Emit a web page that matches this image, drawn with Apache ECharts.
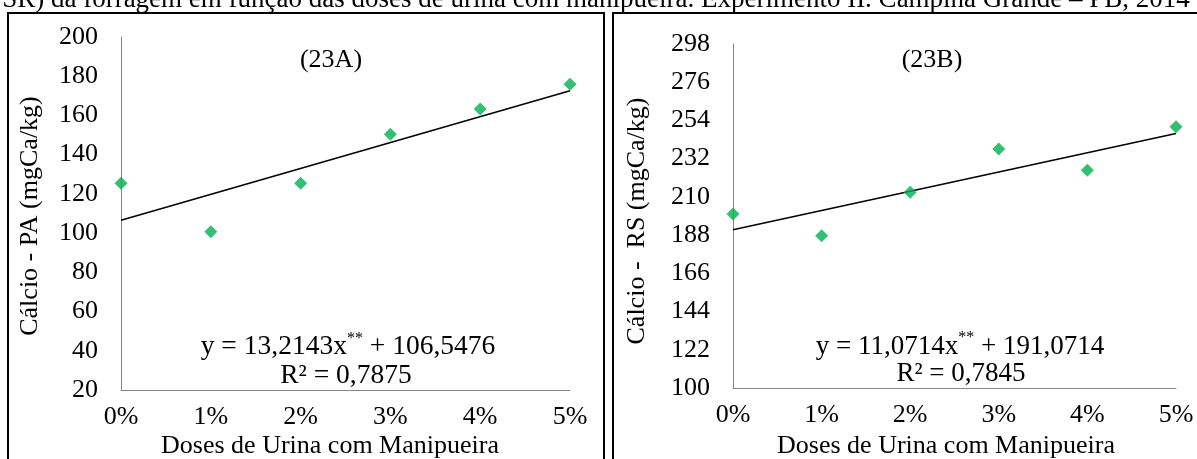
<!DOCTYPE html>
<html>
<head>
<meta charset="utf-8">
<script src="https://cdn.jsdelivr.net/npm/echarts@6/dist/echarts.min.js"></script>
<style>
html,body{margin:0;padding:0;background:#fff;}
#c{width:1197px;height:459px;}
</style>
</head>
<body>
<div id="c"></div>
<script>
// Data
const doses = [0, 1, 2, 3, 4, 5];
const doseLabels = ['0%', '1%', '2%', '3%', '4%', '5%'];
const calcioPA = [125.4, 100.7, 125.4, 150.4, 163.3, 175.9];
const calcioRS = [200.2, 187.7, 212.6, 237.6, 225.3, 250.3];
// trend line end points (x = 0 and x = 5) from the fitted equations
const trendPAx = [0, 5];
const trendPA = [106.5476, 172.619];
const trendRSx = [0, 5];
const trendRS = [191.0714, 246.4284];
const yTicksPA = [20, 200, 20];   // min, max, interval
const yTicksRS = [100, 298, 22];

const FONT = '"Liberation Serif", "Times New Roman", serif';
const FS = 26;

const chart = echarts.init(document.getElementById('c'));

function xAxis(gi) {
  return {
    type: 'value', gridIndex: gi, min: 0, max: 5, interval: 1,
    axisLine: {show: true, lineStyle: {color: '#868686', width: 1}},
    axisTick: {show: false},
    splitLine: {show: false},
    axisLabel: {
      color: '#000', fontFamily: FONT, fontSize: FS, margin: 14,
      formatter: v => doseLabels[doses.indexOf(v)]
    }
  };
}
function yAxis(gi, t) {
  return {
    type: 'value', gridIndex: gi, min: t[0], max: t[1], interval: t[2],
    axisLine: {show: true, lineStyle: {color: '#868686', width: 1}},
    axisTick: {show: false},
    splitLine: {show: false},
    axisLabel: {color: '#000', fontFamily: FONT, fontSize: FS, margin: 23}
  };
}

const txt = (x, y, s, extra, fs) => Object.assign({
  type: 'text', x: x, y: y,
  style: {text: s, fill: '#000', font: (fs || FS) + 'px ' + FONT, textAlign: 'center', textVerticalAlign: 'middle'}
}, extra || {});

function eq(x, y, a, b, fs) {
  return {
    type: 'text', x: x, y: y,
    style: {
      text: '{n|' + a + '}{s|**}{n|' + b + '}',
      rich: {
        n: {fontFamily: FONT, fontSize: fs, fill: '#000', lineHeight: 30, verticalAlign: 'bottom'},
        s: {fontFamily: FONT, fontSize: 16, fill: '#000', lineHeight: 30, verticalAlign: 'top'}
      },
      textAlign: 'center', textVerticalAlign: 'middle'
    }
  };
}

const option = {
  backgroundColor: '#fff',
  animation: false,
  grid: [
    {left: 121, top: 37, width: 449, height: 353},
    {left: 733, top: 44, width: 443, height: 344}
  ],
  xAxis: [xAxis(0), xAxis(1)],
  yAxis: [yAxis(0, yTicksPA), yAxis(1, yTicksRS)],
  series: [
    {type: 'line', xAxisIndex: 0, yAxisIndex: 0, data: trendPAx.map((x, i) => [x, trendPA[i]]),
      symbol: 'none', lineStyle: {color: '#000', width: 1.5}, z: 2},
    {type: 'scatter', xAxisIndex: 0, yAxisIndex: 0, data: doses.map((x, i) => [x, calcioPA[i]]),
      symbol: 'diamond', symbolSize: 13, itemStyle: {color: '#00B050'}, z: 3},
    {type: 'line', xAxisIndex: 1, yAxisIndex: 1, data: trendRSx.map((x, i) => [x, trendRS[i]]),
      symbol: 'none', lineStyle: {color: '#000', width: 1.5}, z: 2},
    {type: 'scatter', xAxisIndex: 1, yAxisIndex: 1, data: doses.map((x, i) => [x, calcioRS[i]]),
      symbol: 'diamond', symbolSize: 13, itemStyle: {color: '#00B050'}, z: 3}
  ],
  graphic: [
    {type: 'rect', shape: {x: 8, y: 13, width: 596, height: 500}, style: {fill: 'none', stroke: '#000', lineWidth: 2}},
    {type: 'rect', shape: {x: 613, y: 13, width: 700, height: 500}, style: {fill: 'none', stroke: '#000', lineWidth: 2}},
    txt(596, 0, 'SR) da forragem em função das doses de urina com manipueira. Experimento II. Campina Grande – PB, 2014', null, 27),
    txt(331, 60, '(23A)'),
    txt(932, 60, '(23B)'),
    txt(30, 216, 'Cálcio - PA (mgCa/kg)', {rotation: Math.PI / 2}),
    txt(637, 221, 'Cálcio -  RS (mgCa/kg)', {rotation: Math.PI / 2}),
    txt(330, 446, 'Doses de Urina com Manipueira'),
    txt(946, 446, 'Doses de Urina com Manipueira'),
    eq(348, 346, 'y = 13,2143x', ' + 106,5476', 27.5),
    txt(346, 376, 'R² = 0,7875', null, 27.5),
    eq(960, 345, 'y = 11,0714x', ' + 191,0714', 27),
    txt(961, 374, 'R² = 0,7845', null, 27)
  ]
};
chart.setOption(option);
</script>
</body>
</html>
